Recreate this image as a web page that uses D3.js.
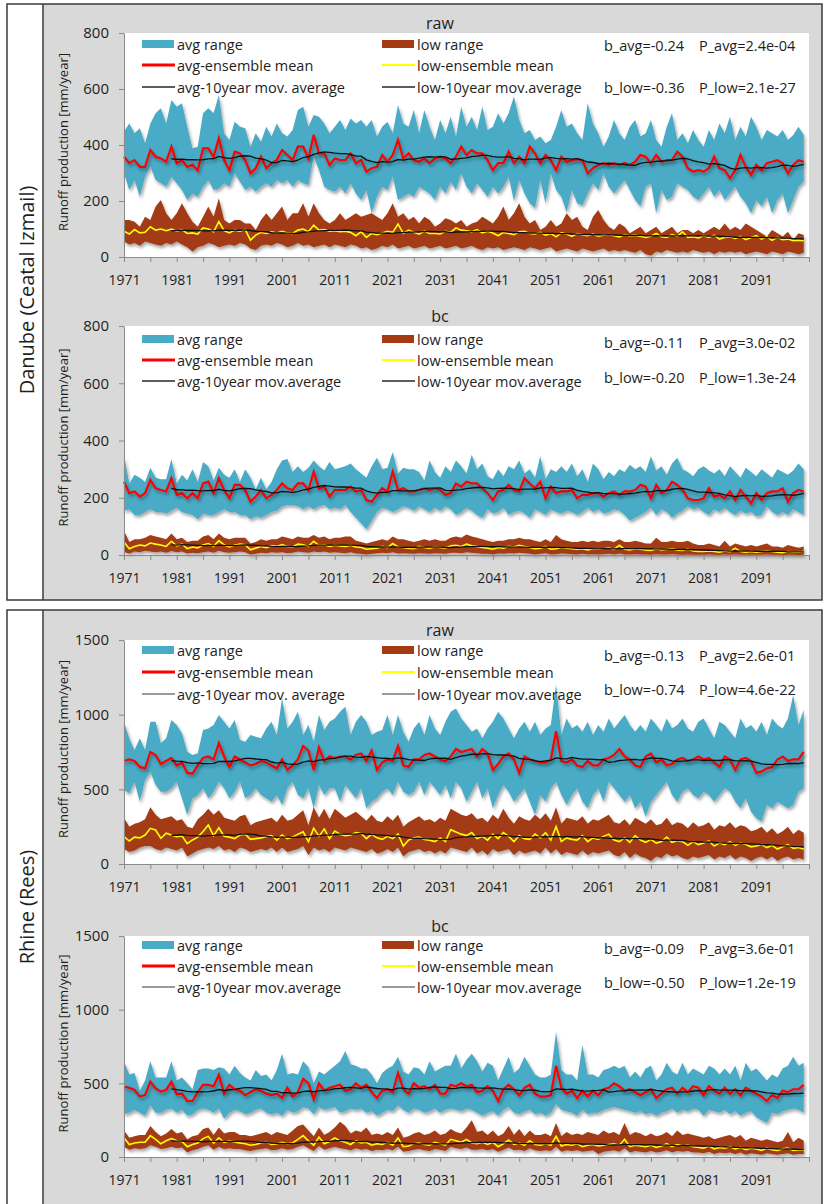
<!DOCTYPE html>
<html lang="en">
<head>
<meta charset="UTF-8">
<title>Runoff production</title>
<script src="https://cdn.jsdelivr.net/npm/d3@7/dist/d3.min.js"></script>
<style>
    body { margin: 0; background: #fff; }
    svg text { font-family: "Open Sans", sans-serif; fill: #1e1e1e; }
</style>
</head>
<body>
<script>
// years 1971..2100
const years = d3.range(1971, 2101);
const xTickYears = d3.range(1971, 2102, 5);

// ---------- Danube (Ceatal Izmail), raw ----------
const danRawAvgMax = [
 448,477,442,460,406,477,513,531,477,561,
 537,549,465,388,394,513,531,513,579,442,
 418,483,465,460,394,442,412,465,430,477,
 442,430,454,525,537,465,507,501,477,442,
 465,489,454,495,477,489,465,489,430,465,
 483,442,543,477,465,525,442,525,465,418,
 489,442,501,430,537,465,501,454,537,454,
 465,513,477,513,573,489,442,454,418,430,
 406,418,465,525,465,477,442,418,549,477,
 442,394,430,489,442,418,465,489,430,442,
 489,418,394,465,513,418,442,406,454,418,
 394,454,418,477,442,501,418,465,430,501,
 465,418,454,442,430,454,418,436,465,436];
const danRawAvgMin = [
 299,239,275,215,287,323,275,263,251,287,
 263,239,204,227,215,251,275,239,245,263,
 251,299,269,239,251,233,251,263,251,275,
 263,275,251,275,263,257,358,311,251,239,
 233,251,227,263,227,204,239,156,215,251,
 239,287,204,215,227,215,251,239,227,204,
 251,227,269,239,299,251,227,263,239,215,
 251,227,251,287,200,275,227,192,175,275,
 192,299,239,215,160,239,192,185,227,263,
 239,299,251,227,251,275,239,204,180,251,
 263,156,239,204,215,263,251,239,215,204,
 227,251,215,239,204,227,251,215,192,156,
 204,180,215,156,204,227,156,204,251,269];
const danRawAvgMean = [
 358,335,346,322,322,382,358,352,340,394,
 335,346,322,329,310,388,388,358,424,346,
 310,376,370,346,299,317,358,317,335,346,
 382,364,346,394,394,352,436,370,370,329,
 352,346,346,370,335,346,305,317,322,364,
 340,364,418,352,370,346,340,352,335,352,
 358,352,335,358,394,364,382,370,370,346,
 310,335,335,376,335,358,335,394,370,335,
 364,346,310,358,340,346,349,346,299,317,
 329,335,329,335,329,335,329,340,364,358,
 335,364,340,346,346,376,358,317,305,310,
 305,317,358,317,310,281,310,364,322,293,
 329,310,335,340,346,335,299,329,346,340];
const danRawLowMax = [
 132,132,126,108,144,132,180,204,156,132,
 156,192,156,126,108,144,180,144,210,132,
 120,132,132,120,120,96,132,156,132,156,
 180,132,156,156,192,144,192,156,132,120,
 132,156,132,144,156,144,150,156,144,132,
 156,192,144,156,132,144,120,144,132,108,
 120,138,132,120,132,108,120,126,144,132,
 120,144,180,132,156,192,144,120,132,96,
 108,132,108,120,156,132,144,108,96,144,
 168,132,108,96,120,108,85,96,108,85,
 96,108,85,96,108,85,96,96,85,96,
 85,96,108,96,120,96,108,96,120,108,
 96,85,73,96,85,73,90,61,85,79];
const danRawLowMin = [
 55,45,50,40,55,50,45,40,50,45,
 55,45,35,20,35,40,50,45,35,40,
 45,40,50,45,30,25,40,45,40,50,
 45,35,40,50,40,45,35,40,45,35,
 45,40,35,45,40,30,35,25,30,40,
 35,45,30,35,40,30,35,40,30,35,
 40,30,35,40,30,35,40,30,25,35,
 30,35,25,30,35,30,25,35,30,25,
 30,35,20,25,30,25,20,30,25,20,
 25,30,20,25,20,25,20,15,25,10,
 5,20,15,25,20,15,20,15,25,20,
 15,20,10,20,15,20,15,20,10,15,
 20,15,10,20,15,10,20,15,10,15];
const danRawLowMean = [
 92,82,98,86,88,108,96,100,94,100,
 92,98,84,86,82,104,100,90,126,94,
 86,96,92,98,60,78,88,84,90,86,
 92,86,84,96,100,90,114,96,98,92,
 94,90,92,88,76,90,70,84,80,86,
 92,88,118,84,96,88,82,92,84,84,
 82,92,88,104,96,94,90,98,86,92,
 86,76,88,84,80,90,92,84,82,88,
 78,84,72,86,82,74,84,80,76,82,
 74,78,80,76,72,80,76,78,74,70,
 74,84,72,70,80,74,90,70,72,68,
 76,70,78,64,70,72,66,74,62,70,
 76,64,72,60,70,62,64,58,60,58];

// ---------- Danube (Ceatal Izmail), bc ----------
const danBcAvgMax = [
 350,250,280,270,255,305,270,265,265,335,
 250,280,260,300,255,325,310,260,305,280,
 270,300,255,300,270,230,270,230,255,300,
 330,335,290,310,290,305,330,310,295,325,
 300,305,310,320,300,285,270,310,340,300,
 305,360,285,305,300,300,290,260,330,290,
 270,310,290,330,310,285,350,300,320,275,
 265,300,275,310,300,330,285,300,270,345,
 265,300,290,310,290,320,275,300,255,320,
 300,265,290,275,300,290,315,300,310,290,
 345,295,310,280,320,340,300,290,275,300,
 310,295,285,300,275,310,290,270,305,290,
 275,300,285,270,300,290,280,295,320,300];
const danBcAvgMin = [
 155,160,140,140,150,160,150,150,145,155,
 165,150,145,140,125,145,140,140,150,160,
 150,150,140,140,125,135,130,140,150,155,
 170,175,175,170,160,170,160,170,175,160,
 165,160,175,150,130,110,90,120,150,165,
 160,150,160,170,165,155,170,160,150,165,
 155,170,160,140,150,165,155,140,130,160,
 145,150,165,140,150,155,145,130,160,150,
 140,160,150,145,155,150,140,150,165,150,
 160,145,150,160,155,140,120,130,140,150,
 165,140,160,150,130,145,155,170,160,165,
 150,140,160,150,165,150,140,155,145,150,
 135,140,170,150,140,150,140,160,150,140];
const danBcAvgMean = [
 256,216,222,204,216,262,233,227,222,268,
 210,216,198,216,198,250,256,216,268,227,
 198,245,245,227,186,204,227,198,210,227,
 250,233,227,250,250,227,291,233,239,204,
 227,227,227,239,222,227,192,186,210,233,
 222,291,227,233,222,222,227,233,227,233,
 227,210,216,250,239,256,250,250,233,216,
 192,222,227,245,227,222,268,250,233,256,
 198,239,216,222,222,227,198,210,210,216,
 216,204,216,222,210,222,222,227,245,239,
 198,245,216,227,256,245,227,198,192,192,
 198,233,204,210,198,222,192,227,204,180,
 216,192,216,222,222,233,186,216,227,222];
const danBcLowMax = [
 85,45,55,55,60,70,65,60,55,75,
 55,60,45,50,50,65,70,55,75,60,
 55,60,60,60,40,45,55,50,55,55,
 65,60,55,65,60,60,70,60,65,55,
 60,60,65,65,50,45,40,45,50,55,
 50,65,55,55,50,45,50,55,50,55,
 50,50,60,65,60,72,65,60,55,50,
 45,50,50,55,55,60,55,55,50,45,
 55,45,70,55,50,45,45,50,45,50,
 45,50,50,45,55,45,45,50,45,40,
 40,60,45,45,50,45,45,50,40,35,
 35,40,35,30,50,30,40,35,30,35,
 30,35,40,30,30,25,35,30,25,30];
const danBcLowMin = [
 10,5,12,10,15,12,10,12,8,14,
 10,12,5,8,6,10,12,8,15,10,
 8,10,12,10,2,4,8,6,10,8,
 10,6,8,12,10,8,12,10,12,8,
 10,8,6,10,5,4,2,4,6,8,
 6,10,5,6,5,4,6,5,4,6,
 5,4,8,8,6,10,8,6,4,4,
 2,5,4,6,5,8,6,4,2,4,
 6,2,3,5,4,3,2,4,2,3,
 2,3,4,2,5,2,2,3,2,2,
 1,3,2,2,3,2,1,2,1,1,
 1,2,1,1,2,1,2,1,1,1,
 1,1,2,1,1,0,1,1,0,1];
const danBcLowMean = [
 45,22,30,35,32,42,38,35,30,48,
 32,38,22,28,25,35,40,30,50,35,
 28,34,38,36,18,24,30,26,32,30,
 36,30,28,38,36,30,48,34,36,30,
 34,32,30,34,28,26,20,22,24,30,
 26,40,28,26,24,22,30,26,24,28,
 26,24,32,34,30,38,32,30,26,24,
 20,26,24,30,28,34,30,26,22,24,
 30,20,22,26,24,22,20,22,18,22,
 20,22,24,20,34,20,18,22,20,18,
 16,22,18,20,22,18,16,20,14,12,
 12,14,12,10,14,12,24,12,10,12,
 10,12,14,12,10,8,12,10,10,12];

// ---------- Rhine (Rees), raw ----------
const rhiRawAvgMax = [
 953,842,763,842,763,953,953,808,842,964,
 931,875,752,730,741,897,908,931,998,953,
 908,964,830,819,864,852,842,908,953,864,
 1110,908,953,1020,864,931,819,998,897,953,
 975,1020,1053,864,953,998,953,864,886,897,
 998,864,998,886,819,908,953,864,998,908,
 864,953,1020,1042,975,931,886,908,842,908,
 953,1020,975,908,842,908,953,886,953,864,
 908,931,1200,864,975,908,931,886,953,864,
 931,886,975,908,953,998,931,886,931,886,
 975,931,886,975,908,931,975,908,886,953,
 975,908,842,953,931,886,842,975,908,931,
 886,953,864,975,931,908,975,1130,931,1031];
const rhiRawAvgMin = [
 496,473,551,417,563,618,529,484,484,507,
 551,440,328,440,462,507,440,484,551,507,
 440,484,551,440,462,507,462,440,417,462,
 395,507,551,462,440,507,373,529,462,507,
 507,417,529,484,440,507,373,417,440,484,
 507,462,551,484,462,484,551,462,551,507,
 462,529,440,551,507,417,484,551,440,507,
 373,462,529,484,417,462,507,417,328,462,
 417,507,551,462,395,462,507,417,373,462,
 507,417,551,507,462,417,462,373,417,317,
 417,462,507,551,462,417,484,507,462,440,
 484,462,417,462,507,484,417,373,440,350,
 306,284,395,373,417,395,373,395,484,507];
const rhiRawAvgMean = [
 690,700,690,650,640,750,730,670,690,710,
 660,680,610,605,660,710,720,700,810,720,
 650,720,700,680,660,670,690,680,660,640,
 700,630,660,700,790,760,630,780,690,720,
 710,720,720,700,730,740,690,760,630,680,
 700,690,790,660,650,700,700,730,740,720,
 700,690,720,770,750,760,770,720,770,740,
 630,670,720,740,700,610,720,700,690,680,
 680,700,890,690,680,700,660,650,690,660,
 660,700,710,730,770,720,700,660,650,720,
 740,680,700,660,670,700,710,690,700,720,
 700,710,680,650,720,700,630,700,710,690,
 610,620,640,650,700,720,690,700,700,750];
const rhiRawLowMax = [
 310,250,270,280,300,380,330,300,310,320,
 290,300,250,240,300,330,370,330,360,310,
 300,290,320,330,260,280,290,300,310,280,
 330,290,300,330,360,260,380,310,370,300,
 370,340,310,330,350,320,290,330,290,280,
 320,290,330,250,280,300,320,290,300,280,
 310,290,370,350,330,320,340,300,310,280,
 330,300,370,310,270,320,300,290,330,300,
 340,290,380,270,310,300,290,320,270,300,
 290,310,330,280,270,300,260,310,290,270,
 300,260,270,310,260,280,270,240,280,250,
 260,280,230,260,250,280,240,260,250,220,
 230,250,210,240,200,220,250,200,230,210];
const rhiRawLowMin = [
 100,80,90,110,120,120,100,90,110,100,
 90,110,50,70,90,100,110,100,120,90,
 100,80,110,100,80,90,100,90,110,80,
 110,80,90,100,120,60,110,90,100,80,
 110,100,90,110,100,90,80,100,70,80,
 100,80,110,50,80,90,100,80,90,70,
 90,70,110,100,90,80,110,70,90,60,
 100,80,90,100,60,90,70,80,90,70,
 110,70,100,60,80,70,60,90,60,80,
 70,80,90,60,50,80,40,70,50,40,
 20,50,40,70,50,60,40,30,50,40,
 50,60,30,50,40,60,30,50,40,20,
 40,50,30,50,20,40,50,30,40,30];
const rhiRawLowMean = [
 183,154,180,175,194,239,228,172,206,194,
 183,188,136,161,180,217,261,190,243,185,
 180,170,194,200,165,170,175,185,190,160,
 194,170,180,200,215,150,240,185,235,170,
 220,200,190,195,210,205,170,200,175,165,
 185,170,200,120,160,175,180,165,160,150,
 175,150,230,215,200,190,210,170,185,160,
 200,170,210,185,150,190,170,165,200,175,
 210,160,250,150,175,165,160,190,150,175,
 165,185,200,160,150,175,145,190,160,145,
 165,140,150,180,145,155,150,125,150,130,
 140,155,120,140,130,150,125,140,130,115,
 120,130,110,125,100,115,130,105,110,100];

// ---------- Rhine (Rees), bc ----------
const rhiBcAvgMax = [
 650,560,570,450,520,650,540,540,540,650,
 520,540,500,460,590,600,600,590,610,600,
 560,620,570,540,520,590,550,560,520,590,
 700,560,570,560,650,610,500,580,560,590,
 620,650,720,630,620,600,600,560,500,570,
 600,620,680,580,560,610,600,560,650,580,
 600,620,620,700,600,660,700,650,580,640,
 620,520,600,680,570,600,680,620,560,540,
 540,560,850,590,560,560,520,760,560,560,
 540,590,600,620,600,620,540,580,540,600,
 620,520,560,640,580,560,640,560,600,580,
 560,620,600,560,600,560,620,520,640,580,
 600,560,520,560,540,600,620,680,620,640];
const rhiBcAvgMin = [
 290,300,320,300,280,350,300,300,320,330,
 300,320,280,290,320,330,320,300,330,260,
 300,320,310,290,300,320,330,300,290,300,
 280,320,300,310,340,330,290,340,320,330,
 340,300,310,330,320,330,300,310,280,300,
 320,310,350,320,300,330,320,300,310,330,
 300,320,330,320,310,330,320,300,280,300,
 310,280,320,340,300,290,310,320,290,300,
 280,300,360,320,310,300,280,320,290,300,
 300,320,330,340,330,320,310,300,310,290,
 300,280,300,310,330,300,320,310,330,320,
 280,320,310,300,320,290,310,280,300,310,
 270,250,230,300,290,310,320,330,320,300];
const rhiBcAvgMean = [
 477,470,455,410,421,511,466,444,455,511,
 425,430,380,380,440,489,489,480,557,430,
 490,460,450,420,440,460,450,430,420,430,
 400,470,410,440,530,500,390,500,450,470,
 480,490,450,460,500,470,490,440,400,450,
 460,440,570,460,430,500,470,480,460,490,
 430,430,490,480,500,480,490,440,450,480,
 450,380,460,490,460,420,470,490,430,410,
 410,420,620,470,430,450,400,450,410,450,
 420,460,470,500,480,450,460,440,420,440,
 460,400,430,460,470,430,470,440,480,470,
 420,480,450,430,470,430,460,420,470,450,
 430,410,380,420,400,450,440,460,460,490];
const rhiBcLowMax = [
 180,130,140,150,150,210,170,140,160,190,
 160,170,120,140,150,190,200,150,200,160,
 170,170,150,150,140,150,160,170,150,170,
 160,150,180,210,220,180,140,200,150,170,
 200,240,210,160,180,170,200,150,160,150,
 170,150,200,130,140,160,170,150,160,180,
 150,160,190,170,160,200,250,170,180,150,
 180,140,160,210,150,190,140,180,150,150,
 160,140,230,140,170,150,160,150,170,160,
 150,180,160,170,150,230,150,170,160,140,
 160,140,150,170,140,180,150,160,150,140,
 130,140,120,130,140,150,130,150,110,130,
 120,110,120,110,100,110,170,100,130,110];
const rhiBcLowMin = [
 70,50,60,55,60,80,70,55,60,70,
 60,65,30,45,55,70,80,50,70,55,
 60,55,55,45,40,50,55,60,45,50,
 60,50,55,70,80,60,40,75,50,60,
 70,60,55,45,60,50,55,40,50,45,
 55,45,70,35,40,50,55,45,40,55,
 50,40,70,60,55,65,50,50,55,45,
 55,35,50,65,45,50,40,60,45,40,
 45,40,70,35,45,40,45,35,40,45,
 20,35,40,45,35,60,30,40,35,30,
 40,30,35,45,30,40,35,40,30,30,
 25,35,20,30,25,30,20,30,15,25,
 20,15,25,20,15,20,25,15,20,20];
const rhiBcLowMean = [
 130,85,95,100,100,145,120,90,110,125,
 110,105,70,85,95,125,140,95,130,100,
 110,100,95,90,80,85,95,100,85,90,
 100,90,95,120,145,110,80,135,90,105,
 130,110,100,85,110,95,100,80,90,85,
 100,80,130,70,75,90,95,85,80,100,
 90,80,120,110,100,120,95,90,100,85,
 100,70,90,115,85,95,80,110,85,80,
 90,80,140,75,85,80,90,70,80,85,
 75,80,85,90,80,120,70,80,75,70,
 80,65,75,90,70,85,75,80,70,65,
 60,75,55,65,60,70,55,65,50,60,
 55,45,60,50,45,55,60,45,50,50];

const plots = [
    {top: 33, bottom: 257, yMax: 800, yTicks: [0, 200, 400, 600, 800], title: "raw",
     avgMax: danRawAvgMax, avgMin: danRawAvgMin, avgMean: danRawAvgMean,
     lowMax: danRawLowMax, lowMin: danRawLowMin, lowMean: danRawLowMean,
     avgMaLabel: "avg-10year mov. average", lowMaLabel: "low-10year mov.average",
     stats: [["b_avg=-0.24", "P_avg=2.4e-04"], ["b_low=-0.36", "P_low=2.1e-27"]],
     legDy: [11, 32, 54], statDy: [12, 54], maSwatch: "#262626"},
    {top: 326, bottom: 555, yMax: 800, yTicks: [0, 200, 400, 600, 800], title: "bc",
     avgMax: danBcAvgMax, avgMin: danBcAvgMin, avgMean: danBcAvgMean,
     lowMax: danBcLowMax, lowMin: danBcLowMin, lowMean: danBcLowMean,
     avgMaLabel: "avg-10year mov.average", lowMaLabel: "low-10year mov.average",
     stats: [["b_avg=-0.11", "P_avg=3.0e-02"], ["b_low=-0.20", "P_low=1.3e-24"]],
     legDy: [13, 34, 55], statDy: [16, 51], maSwatch: "#262626"},
    {top: 640, bottom: 864, yMax: 1500, yTicks: [0, 500, 1000, 1500], title: "raw",
     avgMax: rhiRawAvgMax, avgMin: rhiRawAvgMin, avgMean: rhiRawAvgMean,
     lowMax: rhiRawLowMax, lowMin: rhiRawLowMin, lowMean: rhiRawLowMean,
     avgMaLabel: "avg-10year mov. average", lowMaLabel: "low-10year mov.average",
     stats: [["b_avg=-0.13", "P_avg=2.6e-01"], ["b_low=-0.74", "P_low=4.6e-22"]],
     legDy: [10, 32, 54], statDy: [15, 49], maSwatch: "#7a7a7a"},
    {top: 936, bottom: 1157, yMax: 1500, yTicks: [0, 500, 1000, 1500], title: "bc",
     avgMax: rhiBcAvgMax, avgMin: rhiBcAvgMin, avgMean: rhiBcAvgMean,
     lowMax: rhiBcLowMax, lowMin: rhiBcLowMin, lowMean: rhiBcLowMean,
     avgMaLabel: "avg-10year mov.average", lowMaLabel: "low-10year mov.average",
     stats: [["b_avg=-0.09", "P_avg=3.6e-01"], ["b_low=-0.50", "P_low=1.2e-19"]],
     legDy: [9, 30, 51], statDy: [12, 46], maSwatch: "#7a7a7a"}
];

const panels = [
    {y: 4, h: 596, label: "Danube (Ceatal Izmail)", labelY: 290},
    {y: 610, h: 600, label: "Rhine (Rees)", labelY: 907}
];

const colAvg = "#4aabc6", colLow = "#a33a12", colRed = "#ff0000", colYel = "#ffff00", colMa = "#111";

let width = 824, height = 1204;
let svg = d3.select("body").append("svg").attr("width", width).attr("height", height);

let defs = svg.append("defs");
let flt = defs.append("filter").attr("id", "shadow")
    .attr("x", "-5%").attr("y", "-20%").attr("width", "110%").attr("height", "150%");
flt.append("feDropShadow").attr("dx", 1.5).attr("dy", 2.5).attr("stdDeviation", 1.6)
    .attr("flood-color", "#000").attr("flood-opacity", 0.35);

// panel frames
panels.forEach(p => {
    svg.append("rect").attr("x", 43).attr("y", p.y).attr("width", 779).attr("height", p.h).attr("fill", "#d9d9d9");
    svg.append("rect").attr("x", 7).attr("y", p.y).attr("width", 815).attr("height", p.h)
        .attr("fill", "none").attr("stroke", "#3a3a3a").attr("stroke-width", 1.5);
    svg.append("line").attr("x1", 43).attr("x2", 43).attr("y1", p.y).attr("y2", p.y + p.h)
        .attr("stroke", "#3a3a3a").attr("stroke-width", 1.5);
    svg.append("text").attr("transform", `translate(26,${p.labelY}) rotate(-90)`)
        .attr("text-anchor", "middle").attr("dominant-baseline", "central")
        .style("font-size", "20px").text(p.label);
});

let x = d3.scaleLinear().domain([1971, 2101]).range([124, 809]);

function movAvg(arr) {
    return arr.map((v, i) => i < 9 ? null : d3.mean(arr.slice(i - 9, i + 1)));
}

plots.forEach(pl => {
    let g = svg.append("g");
    let y = d3.scaleLinear().domain([0, pl.yMax]).range([pl.bottom, pl.top]);

    g.append("rect").attr("x", x.range()[0]).attr("y", pl.top)
        .attr("width", x.range()[1] - x.range()[0]).attr("height", pl.bottom - pl.top).attr("fill", "#fff");

    let rows = years.map((yr, i) => ({
        yr: yr, avgMax: pl.avgMax[i], avgMin: pl.avgMin[i], avgMean: pl.avgMean[i],
        lowMax: pl.lowMax[i], lowMin: pl.lowMin[i], lowMean: pl.lowMean[i]
    }));
    let avgMa = movAvg(pl.avgMean), lowMa = movAvg(pl.lowMean);

    let areaAvg = d3.area().x(d => x(d.yr)).y0(d => y(d.avgMin)).y1(d => y(d.avgMax));
    let areaLow = d3.area().x(d => x(d.yr)).y0(d => y(d.lowMin)).y1(d => y(d.lowMax));
    g.append("path").attr("d", areaAvg(rows)).attr("fill", colAvg).attr("filter", "url(#shadow)");
    g.append("path").attr("d", areaLow(rows)).attr("fill", colLow).attr("filter", "url(#shadow)");

    let line = d3.line().defined(d => d[1] != null).x(d => x(d[0])).y(d => y(d[1]));
    g.append("path").attr("d", line(years.map((yr, i) => [yr, pl.avgMean[i]])))
        .attr("fill", "none").attr("stroke", colRed).attr("stroke-width", 2.2).attr("filter", "url(#shadow)");
    g.append("path").attr("d", line(years.map((yr, i) => [yr, pl.lowMean[i]])))
        .attr("fill", "none").attr("stroke", colYel).attr("stroke-width", 1.6);
    g.append("path").attr("d", line(years.map((yr, i) => [yr, avgMa[i]])))
        .attr("fill", "none").attr("stroke", colMa).attr("stroke-width", 1.3).attr("filter", "url(#shadow)");
    g.append("path").attr("d", line(years.map((yr, i) => [yr, lowMa[i]])))
        .attr("fill", "none").attr("stroke", colMa).attr("stroke-width", 1.3);

    // axes
    let yAxis = d3.axisLeft(y).tickValues(pl.yTicks).tickFormat(d3.format("d"))
        .tickSize(5).tickSizeOuter(0).tickPadding(10);
    let xAxis = d3.axisBottom(x).tickValues(xTickYears).tickSize(5).tickSizeOuter(0).tickPadding(13)
        .tickFormat(d => ((d - 1971) % 10 === 0 && d <= 2091) ? d : "");
    let ya = g.append("g").attr("transform", `translate(${x.range()[0]},0)`).call(yAxis);
    let xa = g.append("g").attr("transform", `translate(0,${pl.bottom})`).call(xAxis);
    [ya, xa].forEach(a => {
        a.attr("font-family", null).attr("font-size", null);
        a.selectAll("path,line").attr("stroke", "#8a8a8a");
    });
    ya.selectAll("text").style("font-size", "15px");
    xa.selectAll("text").style("font-size", "14px");

    g.append("text").attr("transform", `translate(63,${(pl.top + pl.bottom) / 2 - 3}) rotate(-90)`)
        .attr("text-anchor", "middle").attr("dominant-baseline", "central")
        .style("font-size", "13px").text("Runoff production [mm/year]");

    g.append("text").attr("x", 440).attr("y", pl.top - 10).attr("text-anchor", "middle")
        .attr("dominant-baseline", "central").style("font-size", "16px").text(pl.title);

    // legend
    let leg = [
        {col: 0, row: 0, type: "rect", color: colAvg, label: "avg range"},
        {col: 1, row: 0, type: "rect", color: colLow, label: "low range"},
        {col: 0, row: 1, type: "line", color: colRed, w: 3, label: "avg-ensemble mean"},
        {col: 1, row: 1, type: "line", color: colYel, w: 2, label: "low-ensemble mean"},
        {col: 0, row: 2, type: "line", color: pl.maSwatch, w: 1.6, label: pl.avgMaLabel},
        {col: 1, row: 2, type: "line", color: pl.maSwatch, w: 1.6, label: pl.lowMaLabel}
    ];
    let colX = [142, 382];
    leg.forEach(l => {
        let cy = pl.top + pl.legDy[l.row];
        let x0 = colX[l.col];
        if (l.type === "rect") {
            g.append("rect").attr("x", x0).attr("y", cy - 4).attr("width", 32).attr("height", 8).attr("fill", l.color);
        } else {
            g.append("line").attr("x1", x0).attr("x2", x0 + 33).attr("y1", cy).attr("y2", cy)
                .attr("stroke", l.color).attr("stroke-width", l.w);
        }
        g.append("text").attr("x", x0 + 35).attr("y", cy).attr("dominant-baseline", "central")
            .style("font-size", "14.5px").text(l.label);
    });

    pl.stats.forEach((s, i) => {
        let cy = pl.top + pl.statDy[i];
        g.append("text").attr("x", 604).attr("y", cy).attr("dominant-baseline", "central")
            .style("font-size", "14.5px").text(s[0]);
        g.append("text").attr("x", 699).attr("y", cy).attr("dominant-baseline", "central")
            .style("font-size", "14.5px").text(s[1]);
    });
});
</script>
</body>
</html>
